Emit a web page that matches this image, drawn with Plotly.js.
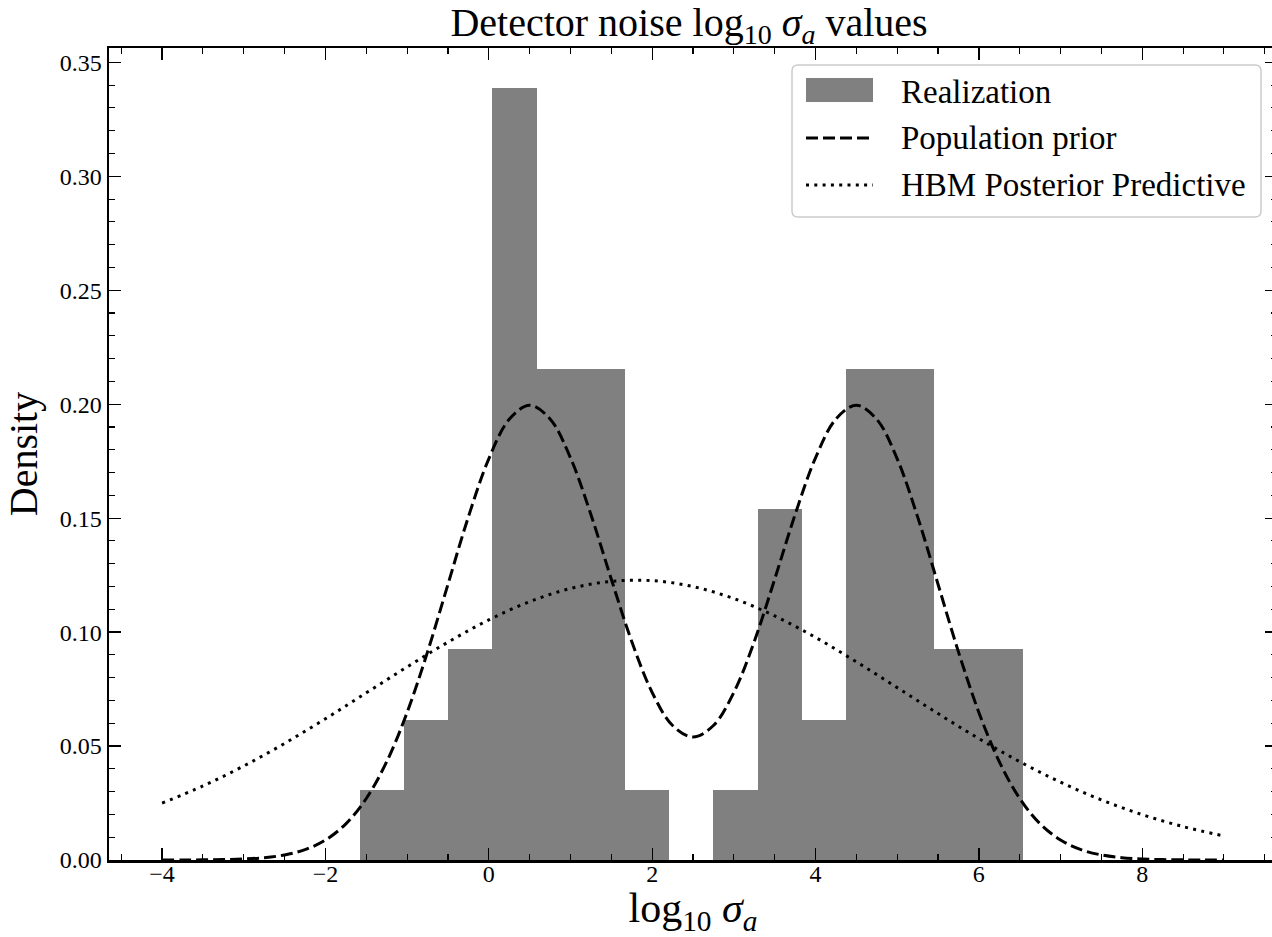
<!DOCTYPE html>
<html>
<head>
<meta charset="utf-8">
<script src="https://cdn.plot.ly/plotly-3.0.1.min.js"></script>
<style>
html, body { margin: 0; padding: 0; overflow: hidden; background: #fff; }
#chart { width: 1280px; height: 937px; }
</style>
</head>
<body>
<div id="chart"></div>
<script>
// ---- Data ----
// Histogram "Realization": bin edges (16) and densities (15 bins)
const binEdges = [-1.580, -1.039, -0.498, 0.043, 0.584, 1.126, 1.667, 2.208,
                  2.749, 3.290, 3.831, 4.372, 4.913, 5.454, 5.995, 6.537];
const binDensity = [0.0308, 0.0616, 0.0924, 0.3388, 0.2156, 0.2156, 0.0308, 0.0,
                    0.0308, 0.1540, 0.0616, 0.2156, 0.2156, 0.0924, 0.0924];

// "Population prior" (dashed curve)
const priorX = [-4.0, -3.75, -3.5, -3.25, -3.0, -2.75, -2.5, -2.25, -2.0, -1.75,
                -1.5, -1.25, -1.0, -0.75, -0.5, -0.25, 0.0, 0.25, 0.5, 0.75,
                1.0, 1.25, 1.5, 1.75, 2.0, 2.25, 2.5, 2.75, 3.0, 3.25,
                3.5, 3.75, 4.0, 4.25, 4.5, 4.75, 5.0, 5.25, 5.5, 5.75,
                6.0, 6.25, 6.5, 6.75, 7.0, 7.25, 7.5, 7.75, 8.0, 8.25,
                8.5, 8.75, 9.0];
const priorY = [0.000008, 0.000024, 0.000067, 0.000177, 0.000437, 0.001015, 0.002216, 0.004545, 0.008765, 0.01587,
                0.02700, 0.04314, 0.06476, 0.09133, 0.12099, 0.15057, 0.17605, 0.19336, 0.19954, 0.19351,
                0.17647, 0.15159, 0.12320, 0.09587, 0.07352, 0.05901, 0.05399, 0.05901, 0.07352, 0.09587,
                0.12320, 0.15159, 0.17647, 0.19351, 0.19954, 0.19336, 0.17605, 0.15057, 0.12099, 0.09133,
                0.06476, 0.04314, 0.02700, 0.01587, 0.008765, 0.004545, 0.002216, 0.001015, 0.000437, 0.000177,
                0.000067, 0.000024, 0.000008];

// "HBM Posterior Predictive" (dotted curve)
const predX = [-4.0, -3.5, -3.0, -2.5, -2.0, -1.5, -1.0, -0.5, 0.0, 0.5,
               1.0, 1.5, 2.0, 2.5, 3.0, 3.5, 4.0, 4.5, 5.0, 5.5,
               6.0, 6.5, 7.0, 7.5, 8.0, 8.5, 9.0];
const predY = [0.02498, 0.03249, 0.04126, 0.05117, 0.06199, 0.07334, 0.08473, 0.09560, 0.10534, 0.11336,
               0.11914, 0.12228, 0.12257, 0.11999, 0.11471, 0.10709, 0.09766, 0.08695, 0.07563, 0.06424,
               0.05328, 0.04315, 0.03414, 0.02638, 0.01991, 0.01466, 0.01056];

const seriesNames = ['Realization', 'Population prior', 'HBM Posterior Predictive'];
const xTickVals = [-4, -2, 0, 2, 4, 6, 8];

// ---- Derived bar geometry ----
const binCenters = binDensity.map((_, i) => (binEdges[i] + binEdges[i + 1]) / 2);
const binWidths = binDensity.map((_, i) => binEdges[i + 1] - binEdges[i]);

const FONT = 'Liberation Serif, Times New Roman, DejaVu Serif, serif';

const traces = [
  {
    type: 'bar', x: binCenters, y: binDensity, width: binWidths,
    marker: { color: '#808080', line: { width: 0 } },
    name: seriesNames[0], showlegend: false, hoverinfo: 'skip'
  },
  {
    type: 'scatter', mode: 'lines', x: priorX, y: priorY,
    line: { color: '#000', width: 3, dash: '12px,5px', shape: 'spline', smoothing: 1 },
    name: seriesNames[1], showlegend: false, hoverinfo: 'skip'
  },
  {
    type: 'scatter', mode: 'lines', x: predX, y: predY,
    line: { color: '#000', width: 3, dash: '3px,5.3px', shape: 'spline', smoothing: 1 },
    name: seriesNames[2], showlegend: false, hoverinfo: 'skip'
  }
];

// ---- Layout geometry (pixels -> paper) ----
const ML = 109, MR = 3, MT = 48, MB = 77, W = 1280, H = 937;
const PW = W - ML - MR, PH = H - MT - MB;
const fx = px => (px - ML) / PW;
const fy = py => (H - MB - py) / PH;

// Rounded legend frame
function roundRect(x0, y0, x1, y1, r) {
  const rx = r / PW, ry = r / PH;
  const X0 = fx(x0), X1 = fx(x1), Y0 = fy(y0), Y1 = fy(y1); // Y0 top, Y1 bottom
  return `M${X0 + rx},${Y0} L${X1 - rx},${Y0} Q${X1},${Y0} ${X1},${Y0 - ry} ` +
         `L${X1},${Y1 + ry} Q${X1},${Y1} ${X1 - rx},${Y1} L${X0 + rx},${Y1} ` +
         `Q${X0},${Y1} ${X0},${Y1 + ry} L${X0},${Y0 - ry} Q${X0},${Y0} ${X0 + rx},${Y0} Z`;
}

const shapes = [
  { type: 'path', xref: 'paper', yref: 'paper', path: roundRect(792, 65, 1261, 217, 6),
    fillcolor: 'rgba(255,255,255,0.8)', line: { color: '#cccccc', width: 1.5 }, layer: 'above' },
  { type: 'rect', xref: 'paper', yref: 'paper', x0: fx(806), x1: fx(873), y0: fy(78), y1: fy(102),
    fillcolor: '#808080', line: { width: 0 }, layer: 'above' },
  { type: 'line', xref: 'paper', yref: 'paper', x0: fx(806), x1: fx(873), y0: fy(138), y1: fy(138),
    line: { color: '#000', width: 3, dash: '12px,5px' }, layer: 'above' },
  { type: 'line', xref: 'paper', yref: 'paper', x0: fx(806), x1: fx(873), y0: fy(185), y1: fy(185),
    line: { color: '#000', width: 3, dash: '3px,5.3px' }, layer: 'above' }
];

const legendRowsY = [92, 138, 185];
const annotations = seriesNames.map((s, i) => ({
  xref: 'paper', yref: 'paper', x: fx(899), y: fy(legendRowsY[i]),
  xanchor: 'left', yanchor: 'middle', showarrow: false, text: s,
  font: { family: FONT, size: 33, color: '#000' }
}));

const axisCommon = {
  showline: true, linecolor: '#000', linewidth: 2.5, mirror: 'ticks',
  ticks: 'inside', ticklen: 12, tickwidth: 1.3, tickcolor: '#000',
  showgrid: false, zeroline: false,
  tickfont: { family: FONT, size: 24, color: '#000' }
};

const layout = {
  width: W, height: H,
  margin: { l: ML, r: MR, t: MT, b: MB, pad: 0 },
  paper_bgcolor: '#fff', plot_bgcolor: '#fff',
  showlegend: false, bargap: 0,
  title: {
    text: 'Detector noise log<sub>10</sub> <i>σ<sub>a</sub></i> values',
    font: { family: FONT, size: 40, color: '#000' },
    xref: 'paper', x: fx(689), xanchor: 'center',
    yref: 'container', y: 1 - 22 / H, yanchor: 'middle'
  },
  xaxis: Object.assign({}, axisCommon, {
    range: [-4.65, 9.65], tickvals: xTickVals, ticklabelstandoff: -9,
    minor: { ticks: 'inside', dtick: 0.5, tick0: 0, ticklen: 6, tickwidth: 1.1, tickcolor: '#000', showgrid: false },
    title: { text: 'log<sub>10</sub> <i>σ<sub>a</sub></i>', font: { family: FONT, size: 42, color: '#000' }, standoff: 20 }
  }),
  yaxis: Object.assign({}, axisCommon, {
    range: [0, 0.3563], dtick: 0.05, tick0: 0, tickformat: '.2f',
    minor: { ticks: 'inside', dtick: 0.01, tick0: 0, ticklen: 6, tickwidth: 1.1, tickcolor: '#000', showgrid: false },
    title: { text: 'Density', font: { family: FONT, size: 40, color: '#000' }, standoff: 10 }
  }),
  shapes: shapes,
  annotations: annotations
};

Plotly.newPlot('chart', traces, layout, { staticPlot: true, displayModeBar: false });
</script>
</body>
</html>
